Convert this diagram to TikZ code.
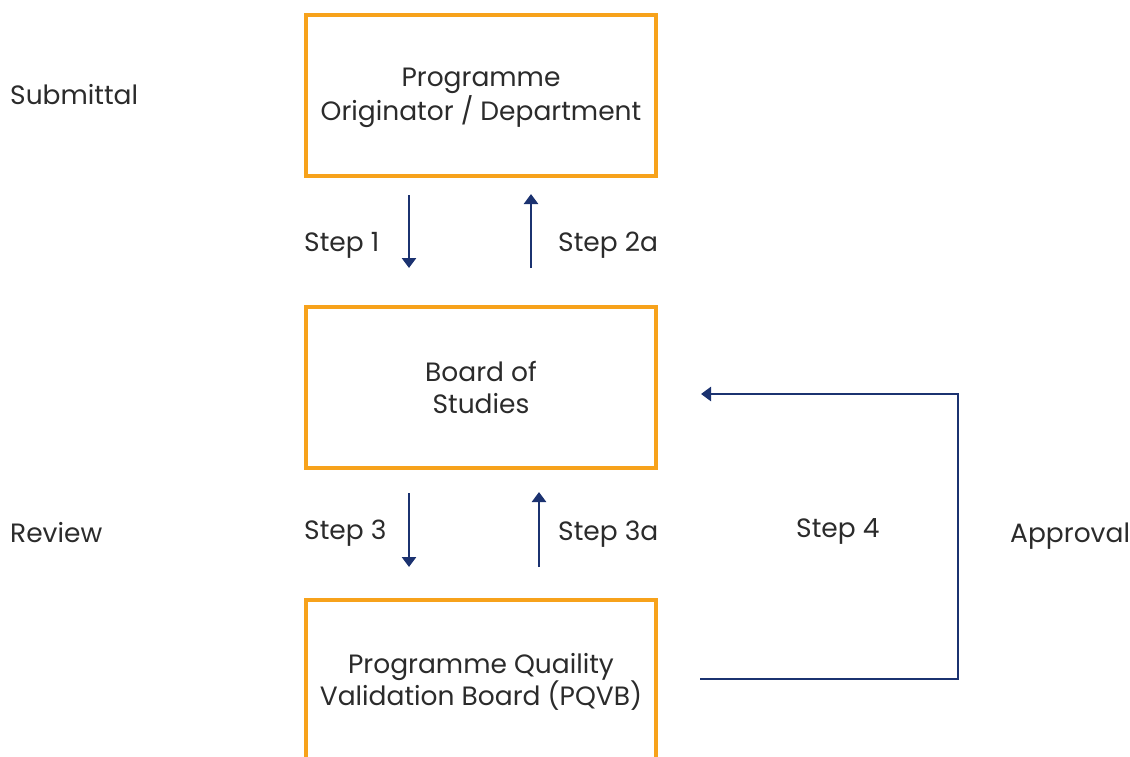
\documentclass[tikz,border=0pt]{standalone}
\usepackage{fontspec}
\setmainfont{Poppins}
\usetikzlibrary{arrows.meta}
\definecolor{boxorange}{HTML}{F7A21B}
\definecolor{navy}{HTML}{1B3270}
\definecolor{txt}{HTML}{2B2B2B}
\tikzset{
  stage/.style={draw=boxorange, line width=4pt, minimum width=350pt, minimum height=161pt, inner sep=0pt},
  stagetext/.style={anchor=base, inner sep=0pt, align=center, font=\fontsize{26.5}{32}\selectfont, text=txt},
  lbl/.style={anchor=base west, font=\fontsize{26.5}{30}\selectfont, text=txt, inner sep=0pt},
  flow/.style={draw=navy, line width=2.8pt, -{Triangle[length=10pt,width=14pt]}},
}
\begin{document}
\begin{tikzpicture}[x=1pt,y=-1pt]
\useasboundingbox (0,0) rectangle (1130,756);
\clip (0,0) rectangle (1130,756);
\node[stage] (orig) at (481,95) {};
\node[stagetext] (origt) at (481,120) {Programme\\Originator / Department};
\node[stage] (bos) at (481,387) {};
\node[stagetext] (bost) at (481,413) {Board of\\Studies};
\node[stage] (pqvb) at (481,680) {};
\node[stagetext] (pqvbt) at (481,705) {Programme Quaility\\Validation Board (PQVB)};
% phase labels
\node[lbl] (sub) at (10,104) {Submittal};
\node[lbl] (rev) at (10,542) {Review};
\node[lbl] (app) at (1010,542) {Approval};
% arrow endpoints
\coordinate (s1a) at (409,195); \coordinate (s1b) at (409,268);
\coordinate (s2a) at (531,268); \coordinate (s2b) at (531,194);
\coordinate (s3a) at (409,493); \coordinate (s3b) at (409,567);
\coordinate (s4a) at (539,567); \coordinate (s4b) at (539,492);
\coordinate (q1) at (700,679); \coordinate (q2) at (958,679);
\coordinate (q3) at (958,394); \coordinate (q4) at (701,394);
\draw[flow] (s1a) -- (s1b);
\draw[flow] (s2a) -- (s2b);
\draw[flow] (s3a) -- (s3b);
\draw[flow] (s4a) -- (s4b);
\draw[flow] (q1) -- (q2) -- (q3) -- (q4);
% step labels
\node[lbl] (l1) at (304,251) {Step 1};
\node[lbl] (l2) at (558,251) {Step 2a};
\node[lbl] (l3) at (304,539) {Step 3};
\node[lbl] (l4) at (558,540) {Step 3a};
\node[lbl] (l5) at (796,537) {Step 4};
\end{tikzpicture}
\end{document}
